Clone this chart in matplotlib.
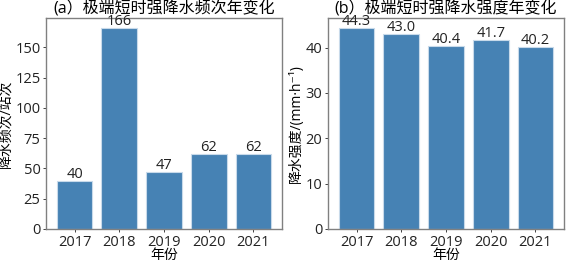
import matplotlib
matplotlib.use("Agg")
import matplotlib.pyplot as plt

plt.rcParams['font.family'] = ['Open Sans', 'Noto Sans CJK SC', 'DejaVu Sans']
plt.rcParams['axes.unicode_minus'] = False

years = ['2017', '2018', '2019', '2020', '2021']
freq = [40, 166, 47, 62, 62]
intensity = [44.3, 43.0, 40.4, 41.7, 40.2]
freq_labels = ['40', '166', '47', '62', '62']
int_labels = ['44.3', '43.0', '40.4', '41.7', '40.2']

fig = plt.figure(figsize=(5.67, 2.63), dpi=100)
ax1 = fig.add_axes([46/567, 1-229/263, 236/567, 211/263])
ax2 = fig.add_axes([328/567, 1-229/263, 236/567, 211/263])

color = '#4682b4'
for ax, vals, labs, title, ylabel in [
    (ax1, freq, freq_labels, '(a）极端短时强降水频次年变化', '降水频次/站次'),
    (ax2, intensity, int_labels, '(b）极端短时强降水强度年变化', '降水强度/(mm·h⁻¹)'),
]:
    bars = ax.bar(years, vals, width=0.8, color=color, edgecolor='#c8daea', linewidth=0.8)
    for b, t in zip(bars, labs):
        ax.text(b.get_x() + b.get_width()/2, b.get_height() - ax.get_ylim()[1]*0.005, t,
                ha='center', va='bottom', fontsize=10.5, color='#222222', linespacing=1.0)
    ax.set_title(title, fontsize=11.5, pad=1.0)
    ax.set_xlabel('年份', fontsize=10, labelpad=-1)
    ax.set_ylabel(ylabel, fontsize=10, labelpad=1)
    ax.tick_params(labelsize=10.5, length=2.5, width=0.6, pad=1.5, colors='#222222')
    for s in ax.spines.values():
        s.set_color('#808080')
        s.set_linewidth(1.0)

fig.savefig('out.png', dpi=100)
